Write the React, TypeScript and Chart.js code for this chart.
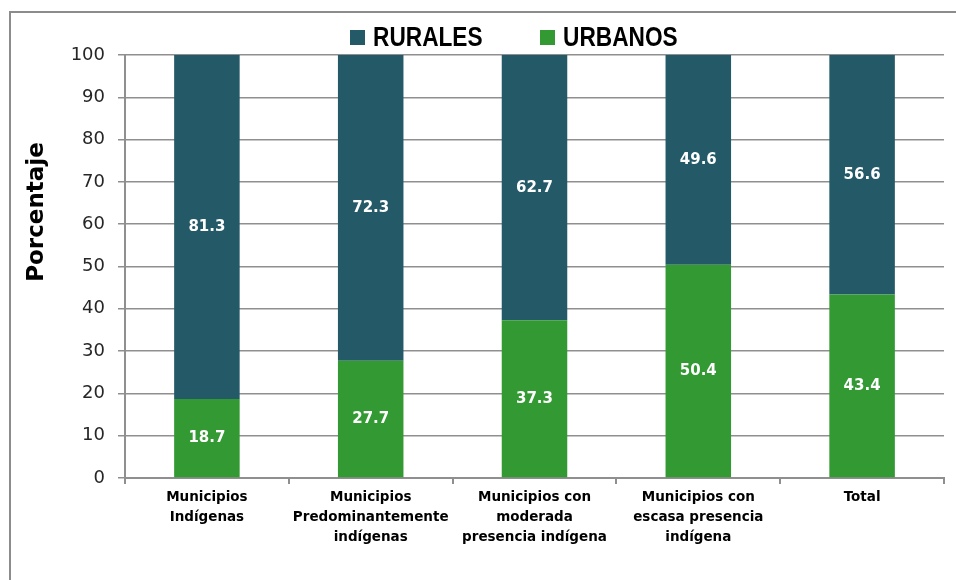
import React, { useEffect, useRef } from "react";
import { Chart, registerables } from "chart.js";

Chart.register(...registerables);

const categories: string[][] = [
  ["Municipios", "Indígenas"],
  ["Municipios", "Predominantemente", "indígenas"],
  ["Municipios con", "moderada", "presencia indígena"],
  ["Municipios con", "escasa presencia", "indígena"],
  ["Total"],
];
const urbanos = [18.7, 27.7, 37.3, 50.4, 43.4];
const rurales = [81.3, 72.3, 62.7, 49.6, 56.6];
const seriesNames = ["RURALES", "URBANOS"];
const yTitle = "Porcentaje";

const RURAL = "#245a68";
const URBAN = "#339933";
const GRID = "#8f8f8f";
const FONT = "'DejaVu Sans', sans-serif";

const framePlugin = {
  id: "frame",
  beforeDraw(chart: any) {
    const ctx = chart.ctx;
    ctx.save();
    ctx.fillStyle = "#ffffff";
    ctx.fillRect(0, 0, chart.width, chart.height);
    ctx.strokeStyle = "#8c8c8c";
    ctx.lineWidth = 2;
    ctx.strokeRect(10, 12, chart.width + 20, chart.height + 20);
    ctx.restore();
  },
};

const labelPlugin = {
  id: "barLabels",
  afterDatasetsDraw(chart: any) {
    const ctx = chart.ctx;
    ctx.save();
    ctx.fillStyle = "#ffffff";
    ctx.font = `bold 15px ${FONT}`;
    ctx.textAlign = "center";
    ctx.textBaseline = "middle";
    chart.data.datasets.forEach((ds: any, di: number) => {
      const meta = chart.getDatasetMeta(di);
      meta.data.forEach((bar: any, i: number) => {
        const v = ds.data[i];
        const cy = (bar.y + bar.base) / 2;
        ctx.fillText(v.toFixed(1), bar.x, cy);
      });
    });
    ctx.restore();
  },
};

const legendTitlePlugin = {
  id: "legendTitle",
  afterDraw(chart: any) {
    const ctx = chart.ctx;
    ctx.save();
    const items = [
      { label: seriesNames[0], color: RURAL, x: 350 },
      { label: seriesNames[1], color: URBAN, x: 540 },
    ];
    ctx.textBaseline = "middle";
    ctx.textAlign = "left";
    items.forEach((it) => {
      ctx.fillStyle = it.color;
      ctx.fillRect(it.x, 30, 15, 15);
      ctx.save();
      ctx.translate(it.x + 23, 38.5);
      ctx.scale(0.84, 1);
      ctx.font = `bold 27px 'Liberation Sans', sans-serif`;
      ctx.fillStyle = "#000000";
      ctx.fillText(it.label, 0, 0);
      ctx.restore();
    });
    ctx.translate(37, 212);
    ctx.rotate(-Math.PI / 2);
    ctx.textAlign = "center";
    ctx.font = `bold 23px ${FONT}`;
    ctx.fillStyle = "#000000";
    ctx.fillText(yTitle, 0, 0);
    ctx.restore();
  },
};

export default function App() {
  const ref = useRef<HTMLCanvasElement>(null);
  useEffect(() => {
    document.body.style.margin = "0";
    const chart = new Chart(ref.current as HTMLCanvasElement, {
      type: "bar",
      data: {
        labels: categories as any,
        datasets: [
          { label: seriesNames[1], data: urbanos, backgroundColor: URBAN, barPercentage: 0.4, categoryPercentage: 1 },
          { label: seriesNames[0], data: rurales, backgroundColor: RURAL, barPercentage: 0.4, categoryPercentage: 1 },
        ],
      },
      options: {
        animation: false,
        responsive: false,
        layout: { padding: { top: 55, right: 12, left: 0, bottom: 0 } },
        plugins: { legend: { display: false }, tooltip: { enabled: false } },
        scales: {
          x: {
            stacked: true,
            offset: true,
            grid: { display: true, offset: true, drawOnChartArea: false, tickLength: 6, color: GRID, lineWidth: 2 },
            border: { display: true, color: GRID, width: 2 },
            ticks: {
              color: "#000000",
              font: { family: FONT, size: 13.5, weight: "bold", lineHeight: 1.48 },
              padding: 4,
              maxRotation: 0,
              autoSkip: false,
            },
            afterFit(scale: any) {
              scale.height = 102;
            },
          },
          y: {
            stacked: true,
            min: 0,
            max: 100,
            ticks: {
              stepSize: 10,
              color: "#262626",
              font: { family: FONT, size: 18 },
              padding: 13,
            },
            grid: { color: GRID, lineWidth: 1.5, tickLength: 7 },
            border: { display: true, color: GRID, width: 2 },
            afterFit(scale: any) {
              scale.width = 125;
            },
          },
        },
      },
      plugins: [framePlugin, labelPlugin, legendTitlePlugin],
    });
    return () => chart.destroy();
  }, []);
  return <canvas ref={ref} width={956} height={580} style={{ display: "block" }} />;
}
